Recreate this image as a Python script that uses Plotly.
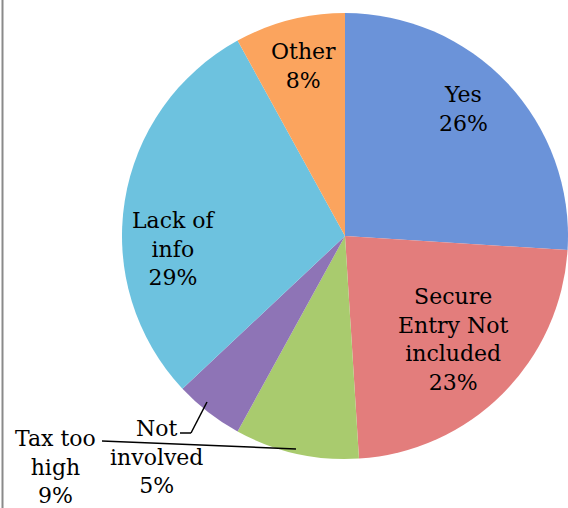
import plotly.graph_objects as go

# ---- data ----
categories = ["Yes", "Secure Entry Not included", "Tax too high", "Not involved", "Lack of info", "Other"]
values = [26, 23, 9, 5, 29, 8]
label_texts = ["Yes<br>26%", "Secure<br>Entry Not<br>included<br>23%", "Tax too<br>high<br>9%",
               "Not<br>involved<br>5%", "Lack of<br>info<br>29%", "Other<br>8%"]

# ---- style / layout ----
W, H = 568, 508
colors = ["#6B93D9", "#E37D7C", "#A9CB6E", "#8E74B6", "#6DC2DF", "#FBA45E"]
cx, cy, R = 345, 236, 223
# label centre positions in pixels (x from left, y from top)
label_px = [(463, 109), (453, 339), (56, 467), (156, 457), (174, 249), (303, 66)]

fig = go.Figure()
fig.add_trace(go.Pie(
    labels=categories, values=values, sort=False, direction="clockwise", rotation=0,
    marker=dict(colors=colors, line=dict(width=0)),
    textinfo="none", hoverinfo="label+percent", showlegend=False,
    domain=dict(x=[(cx - R) / W, (cx + R) / W], y=[(H - cy - R) / H, (H - cy + R) / H]),
))

font = dict(family="DejaVu Serif, Liberation Serif, serif", size=22, color="#000000")
for txt, (px, py) in zip(label_texts, label_px):
    fig.add_annotation(x=px / W, y=1 - py / H, xref="paper", yref="paper", text=txt,
                       showarrow=False, font=font, align="center", xanchor="center", yanchor="middle")

def P(px, py):
    return px / W, 1 - py / H

# leader lines
x0, y0 = P(102, 441); x1, y1 = P(296, 449)
fig.add_shape(type="line", xref="paper", yref="paper", x0=x0, y0=y0, x1=x1, y1=y1,
              line=dict(color="#000000", width=1.5))
x0, y0 = P(180, 433); x1, y1 = P(191, 433)
fig.add_shape(type="line", xref="paper", yref="paper", x0=x0, y0=y0, x1=x1, y1=y1,
              line=dict(color="#000000", width=1.5))
x0, y0 = P(191, 433); x1, y1 = P(207, 402)
fig.add_shape(type="line", xref="paper", yref="paper", x0=x0, y0=y0, x1=x1, y1=y1,
              line=dict(color="#000000", width=1.5))
# left frame edge
x0, y0 = P(2.5, 0); x1, y1 = P(2.5, H)
fig.add_shape(type="line", xref="paper", yref="paper", x0=x0, y0=y0, x1=x1, y1=y1,
              line=dict(color="#8A8A8A", width=2))

fig.update_layout(width=W, height=H, margin=dict(l=0, r=0, t=0, b=0),
                  paper_bgcolor="#FFFFFF", plot_bgcolor="#FFFFFF")
fig.write_html("out.html", config={"displayModeBar": False},
               post_script="document.body.style.margin='0px';")
